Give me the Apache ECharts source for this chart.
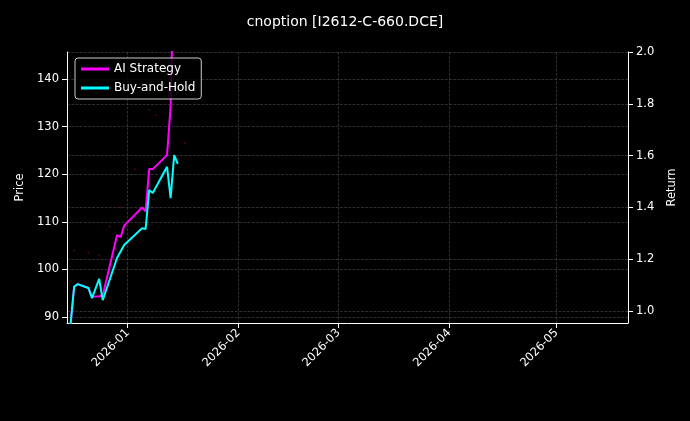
<!DOCTYPE html><html><head><meta charset="utf-8"><script src="https://cdn.jsdelivr.net/npm/echarts@6/dist/echarts.min.js"></script>
<style>html,body{margin:0;background:#000}#c{width:690px;height:421px}</style></head><body><div id="c"></div><script>
const bhDates=['2025-12-16','2025-12-17','2025-12-18','2025-12-21','2025-12-22','2025-12-24','2025-12-25','2025-12-29','2025-12-31','2026-01-05','2026-01-06','2026-01-07','2026-01-08','2026-01-12','2026-01-13','2026-01-14','2026-01-15'];
const bhValues=[0.95,1.094,1.104,1.089,1.05,1.124,1.042,1.205,1.255,1.32,1.317,1.467,1.456,1.557,1.436,1.602,1.568];
const aiDates=['2025-12-16','2025-12-17','2025-12-18','2025-12-21','2025-12-22','2025-12-24','2025-12-25','2025-12-29','2025-12-30','2025-12-31','2026-01-05','2026-01-06','2026-01-07','2026-01-08','2026-01-12','2026-01-13','2026-01-14'];
const aiValues=[0.95,1.094,1.104,1.089,1.055,1.057,1.06,1.293,1.285,1.33,1.40,1.385,1.548,1.548,1.602,1.79,2.4];
const priceDates=['2025-12-17','2025-12-21','2025-12-24','2025-12-27','2025-12-30','2026-01-03','2026-01-07','2026-01-09','2026-01-17'];
const priceValues=[104,103.5,103,109,113,121,133.5,132.4,126.5];
const priceTicks=[90,100,110,120,130,140];
const returnTicks=[1.0,1.2,1.4,1.6,1.8,2.0];
const dateTicks=['2026-01-01','2026-02-01','2026-03-01','2026-04-01','2026-05-01'];
const ts=s=>Date.UTC(+s.slice(0,4),+s.slice(5,7)-1,+s.slice(8,10));
const toPts=(d,v)=>d.map((x,i)=>[ts(x),v[i]]);
const ch=echarts.init(document.getElementById('c'));
const ax={color:'#fff',fontSize:11.5,fontFamily:'DejaVu Sans'};
const grid={show:true,lineStyle:{color:'#444',type:'dashed',width:0.7}};
ch.setOption({backgroundColor:'#000',animation:false,
title:{text:'cnoption [I2612-C-660.DCE]',left:'center',top:10,textStyle:{color:'#fff',fontSize:14,fontWeight:'normal',fontFamily:'DejaVu Sans'}},
legend:{left:75,top:58,orient:'vertical',itemWidth:28,itemHeight:3,itemGap:7,backgroundColor:'rgba(0,0,0,0.8)',borderColor:'#ccc',borderWidth:1,borderRadius:3,padding:[5,6],textStyle:{color:'#fff',fontSize:12,fontFamily:'DejaVu Sans'},data:[{name:'AI Strategy',icon:'rect'},{name:'Buy-and-Hold',icon:'rect'}]},
grid:{left:67,right:62,top:52,bottom:98},
xAxis:{type:'value',min:ts('2025-12-15'),max:ts('2026-05-21'),
axisLine:{lineStyle:{color:'#fff'}},
axisLabel:{...ax,rotate:45,customValues:dateTicks.map(ts),formatter:v=>{const d=new Date(v);return d.getUTCFullYear()+'-'+String(d.getUTCMonth()+1).padStart(2,'0')}},
axisTick:{show:true,customValues:dateTicks.map(ts),lineStyle:{color:'#fff'}},
splitLine:grid},
yAxis:[{type:'value',name:'Price',nameLocation:'middle',nameGap:38,nameTextStyle:ax,min:88.74,max:145.7,
axisLabel:{...ax,customValues:priceTicks},axisTick:{show:true,customValues:priceTicks},axisLine:{show:true,lineStyle:{color:'#fff'}},splitLine:grid},
{type:'value',name:'Return',nameLocation:'middle',nameGap:38,nameTextStyle:ax,min:0.954,max:2.0,
axisLabel:{...ax,customValues:returnTicks,formatter:v=>v.toFixed(1)},axisTick:{show:true,customValues:returnTicks},axisLine:{show:true,lineStyle:{color:'#fff'}},splitLine:grid}],
series:[
{name:'Price',type:'scatter',yAxisIndex:0,symbolSize:2,itemStyle:{color:'#5a0a1a'},data:toPts(priceDates,priceValues),silent:true},
{name:'AI Strategy',type:'line',yAxisIndex:1,showSymbol:false,clip:true,lineStyle:{color:'#ff00ff',width:2},itemStyle:{color:'#ff00ff'},data:toPts(aiDates,aiValues)},
{name:'Buy-and-Hold',type:'line',yAxisIndex:1,showSymbol:false,clip:true,lineStyle:{color:'#00ffff',width:2},itemStyle:{color:'#00ffff'},data:toPts(bhDates,bhValues)}
]});
</script></body></html>
